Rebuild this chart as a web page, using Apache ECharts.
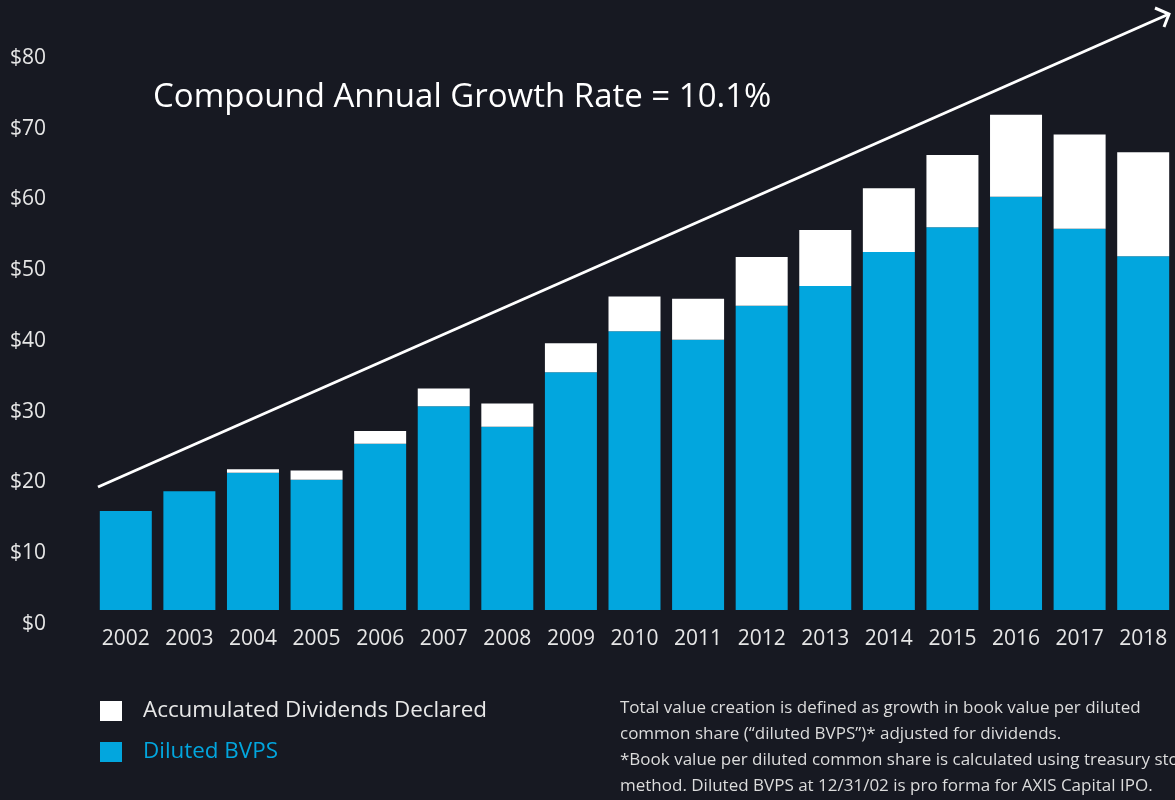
<!DOCTYPE html>
<html>
<head>
<meta charset="utf-8">
<script src="https://cdn.jsdelivr.net/npm/echarts@6/dist/echarts.min.js"></script>
<style>
  html, body { margin: 0; padding: 0; background: #171922; }
  #chart { width: 1175px; height: 800px; }
</style>
</head>
<body>
<div id="chart"></div>
<script>
const years = ['2002', '2003', '2004', '2005', '2006', '2007', '2008', '2009', '2010',
  '2011', '2012', '2013', '2014', '2015', '2016', '2017', '2018']
// diluted BVPS (blue part)
const bvps = [14.0, 16.8, 19.4, 18.4, 23.5, 28.8, 25.9, 33.6, 39.4,
  38.2, 43.0, 45.8, 50.6, 54.1, 58.4, 53.9, 50.0]
// accumulated dividends declared (white part on top)
const dividends = [0, 0, 0.5, 1.3, 1.8, 2.5, 3.3, 4.1, 4.9,
  5.8, 6.9, 7.9, 9.0, 10.2, 11.6, 13.3, 14.7]
const yTicks = [0, 10, 20, 30, 40, 50, 60, 70, 80]

const BG = '#171922'
const BLUE = '#02a6de'
const FONT = '"Open Sans", "Noto Sans", sans-serif'

const chart = echarts.init(document.getElementById('chart'))

chart.setOption({
  backgroundColor: BG,
  animation: false,
  textStyle: { fontFamily: FONT },
  grid: { left: 94, width: 1084, top: 44, bottom: 190, containLabel: false },
  xAxis: {
    type: 'category',
    data: years,
    axisLine: { show: false },
    axisTick: { show: false },
    axisLabel: { interval: 0, color: '#e6e6e6', fontSize: 21, margin: 19, fontFamily: FONT }
  },
  yAxis: {
    type: 'value',
    min: yTicks[0],
    max: yTicks[yTicks.length - 1],
    interval: 10,
    splitLine: { show: false },
    axisLine: { show: false },
    axisTick: { show: false },
    axisLabel: {
      color: '#e6e6e6',
      fontSize: 21,
      margin: 48,
      align: 'right',
      verticalAlign: 'top',
      lineHeight: 28,
      fontFamily: FONT,
      formatter: v => '$' + v
    }
  },
  legend: {
    orient: 'vertical',
    left: 100,
    top: 700,
    padding: 0,
    itemWidth: 22,
    itemHeight: 20,
    itemGap: 19,
    icon: 'rect',
    selectedMode: false,
    textStyle: { fontSize: 22.4, fontFamily: FONT, padding: [0, 0, 0, 16] },
    data: [
      { name: 'Accumulated Dividends Declared', textStyle: { color: '#e8e8e8' } },
      { name: 'Diluted BVPS', textStyle: { color: BLUE } }
    ]
  },
  series: [
    {
      name: 'Diluted BVPS',
      type: 'bar',
      stack: 'total',
      barWidth: 52,
      itemStyle: { color: BLUE },
      data: bvps
    },
    {
      name: 'Accumulated Dividends Declared',
      type: 'bar',
      stack: 'total',
      barWidth: 52,
      itemStyle: { color: '#ffffff' },
      data: dividends
    }
  ],
  graphic: [
    {
      type: 'text',
      left: 153,
      top: 81,
      style: {
        text: 'Compound Annual Growth Rate = 10.1%',
        fill: '#ffffff',
        font: '33px ' + FONT
      }
    },
    {
      type: 'line',
      shape: { x1: 98, y1: 487, x2: 1169, y2: 14 },
      style: { stroke: '#ffffff', lineWidth: 3 }
    },
    {
      type: 'polyline',
      shape: { points: [[1155, 8], [1169, 14], [1164, 27]] },
      style: { stroke: '#ffffff', lineWidth: 3, fill: null }
    },
    {
      type: 'text',
      left: 620,
      top: 695,
      style: {
        text: 'Total value creation is defined as growth in book value per diluted\n' +
          'common share (\u201cdiluted BVPS\u201d)* adjusted for dividends.\n' +
          '*Book value per diluted common share is calculated using treasury stock\n' +
          'method. Diluted BVPS at 12/31/02 is pro forma for AXIS Capital IPO.',
        fill: '#dcdcdc',
        font: '17px ' + FONT,
        lineHeight: 26
      }
    }
  ]
})
</script>
</body>
</html>
